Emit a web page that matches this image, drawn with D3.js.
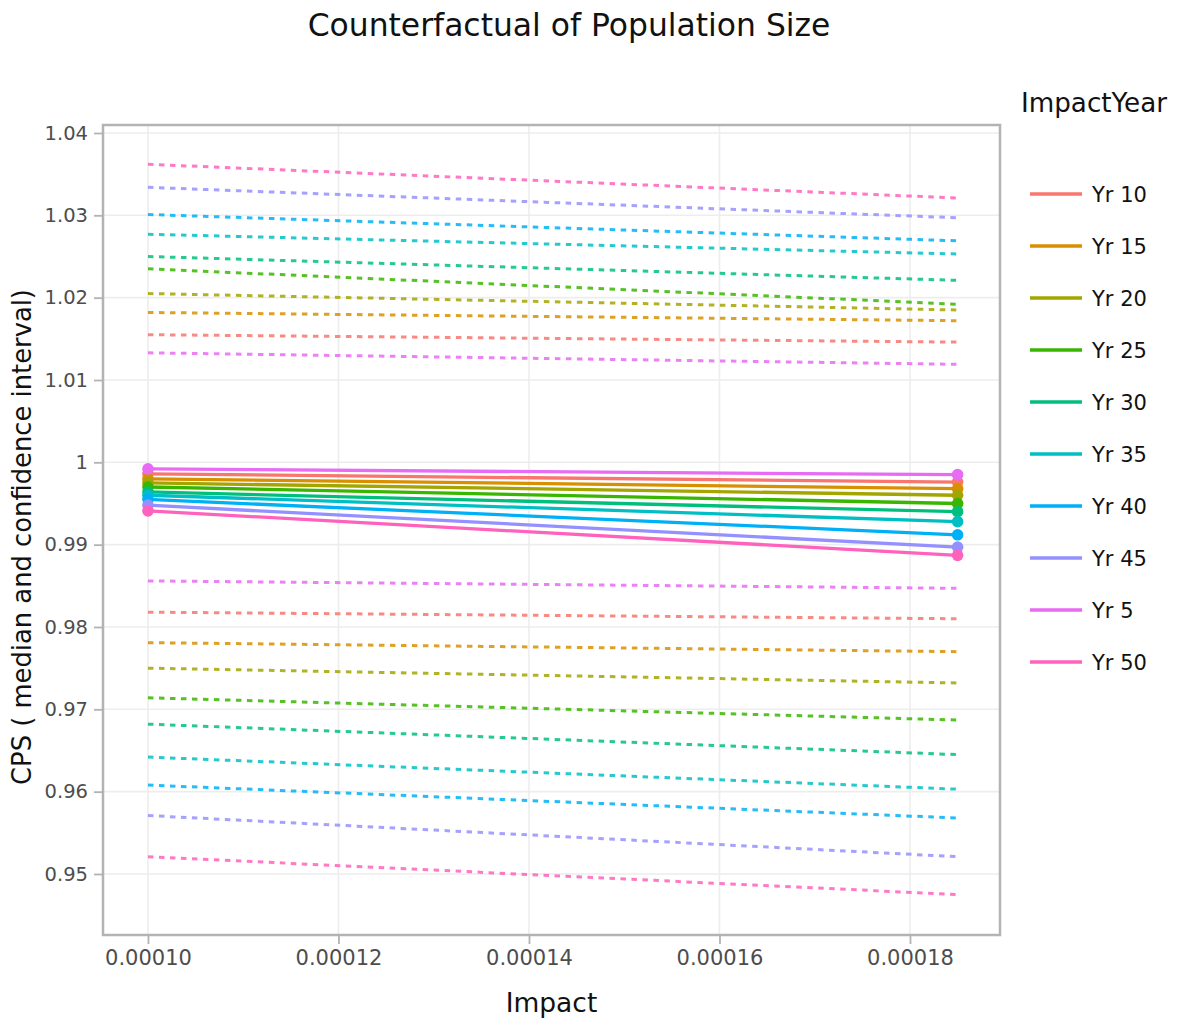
<!DOCTYPE html>
<html>
<head>
<meta charset="utf-8">
<script src="https://cdn.jsdelivr.net/npm/d3@7"></script>
<style>
  html, body { margin: 0; padding: 0; background: #fff; }
  svg { display: block; font-family: "DejaVu Sans", Verdana, sans-serif; }
</style>
</head>
<body>
<svg id="chart" width="1186" height="1023"></svg>
<script>
// ---- data ----
const categories = ["Yr 10", "Yr 15", "Yr 20", "Yr 25", "Yr 30", "Yr 35", "Yr 40", "Yr 45", "Yr 5", "Yr 50"];
const colors = ["#F8766D", "#D89000", "#A3A500", "#39B600", "#00BF7D", "#00BFC4", "#00B0F6", "#9590FF", "#E76BF3", "#FF62BC"];
const impacts = [0.00010, 0.000185];
const medianAtLow  = [0.9986, 0.9980, 0.9975, 0.9970, 0.9964, 0.9960, 0.9955, 0.9948, 0.9992, 0.9941];
const medianAtHigh = [0.9976, 0.9968, 0.9960, 0.9950, 0.9940, 0.9928, 0.9912, 0.9897, 0.9985, 0.9887];
const upperAtLow   = [1.0155, 1.0182, 1.0205, 1.0235, 1.0250, 1.0277, 1.0301, 1.0334, 1.0133, 1.0362];
const upperAtHigh  = [1.0146, 1.0172, 1.0185, 1.0192, 1.0221, 1.0253, 1.0269, 1.0297, 1.0119, 1.0321];
const lowerAtLow   = [0.9818, 0.9781, 0.9750, 0.9714, 0.9682, 0.9642, 0.9608, 0.9571, 0.9856, 0.9521];
const lowerAtHigh  = [0.9810, 0.9770, 0.9732, 0.9687, 0.9645, 0.9603, 0.9568, 0.9521, 0.9847, 0.9475];
const xTicks = [0.00010, 0.00012, 0.00014, 0.00016, 0.00018];
const yTicks = [0.95, 0.96, 0.97, 0.98, 0.99, 1.00, 1.01, 1.02, 1.03, 1.04];
const xDomain = [0.00009528, 0.00018945];
const yDomain = [0.94259, 1.04097];

// ---- layout ----
const panel = { left: 103, right: 1000, top: 125, bottom: 935 };
const svg = d3.select("#chart");

const x = d3.scaleLinear().domain(xDomain).range([panel.left, panel.right]);
const y = d3.scaleLinear().domain(yDomain).range([panel.bottom, panel.top]);

// grid
const grid = svg.append("g");
grid.selectAll("line.gx").data(xTicks).join("line")
  .attr("x1", d => x(d)).attr("x2", d => x(d))
  .attr("y1", panel.top).attr("y2", panel.bottom)
  .attr("stroke", "#ededed").attr("stroke-width", 1.6);
grid.selectAll("line.gy").data(yTicks).join("line")
  .attr("x1", panel.left).attr("x2", panel.right)
  .attr("y1", d => y(d)).attr("y2", d => y(d))
  .attr("stroke", "#ededed").attr("stroke-width", 1.6);

// series
const series = categories.map((c, i) => ({
  name: c, color: colors[i],
  median: [[impacts[0], medianAtLow[i]], [impacts[1], medianAtHigh[i]]],
  upper: [[impacts[0], upperAtLow[i]], [impacts[1], upperAtHigh[i]]],
  lower: [[impacts[0], lowerAtLow[i]], [impacts[1], lowerAtHigh[i]]]
}));

const line = d3.line().x(d => x(d[0])).y(d => y(d[1]));
const plot = svg.append("g");

series.forEach(s => {
  ["upper", "lower"].forEach(k => {
    plot.append("path").attr("d", line(s[k]))
      .attr("fill", "none").attr("stroke", s.color)
      .attr("stroke-width", 3).attr("stroke-dasharray", "5.5,5.5")
      .attr("opacity", 0.85);
  });
});
series.forEach(s => {
  plot.append("path").attr("d", line(s.median))
    .attr("fill", "none").attr("stroke", s.color)
    .attr("stroke-width", 3.3);
  plot.selectAll(null).data(s.median).join("circle")
    .attr("cx", d => x(d[0])).attr("cy", d => y(d[1]))
    .attr("r", 5.8).attr("fill", s.color);
});

// panel border
svg.append("rect")
  .attr("x", panel.left).attr("y", panel.top)
  .attr("width", panel.right - panel.left).attr("height", panel.bottom - panel.top)
  .attr("fill", "none").attr("stroke", "#b3b3b3").attr("stroke-width", 2.5);

// axes
const xAxis = svg.append("g").attr("transform", `translate(0,${panel.bottom + 1})`)
  .call(d3.axisBottom(x).tickValues(xTicks).tickFormat(d3.format(".5f")).tickSize(8).tickPadding(6));
const yAxis = svg.append("g").attr("transform", `translate(${panel.left - 1},0)`)
  .call(d3.axisLeft(y).tickValues(yTicks).tickFormat(d3.format(".2~f")).tickSize(8).tickPadding(6));
[xAxis, yAxis].forEach(a => {
  a.select(".domain").remove();
  a.selectAll(".tick line").attr("stroke", "#b3b3b3").attr("stroke-width", 1.8);
  a.selectAll(".tick text").attr("fill", "#4d4d4d")
    .style("font-family", '"DejaVu Sans", Verdana, sans-serif');
});
xAxis.selectAll(".tick text").style("font-size", "21px");
yAxis.selectAll(".tick text").style("font-size", "19.5px");

// titles
svg.append("text").attr("x", 569).attr("y", 36).attr("text-anchor", "middle")
  .attr("fill", "#111").style("font-size", "31.4px")
  .text("Counterfactual of Population Size");
svg.append("text").attr("x", (panel.left + panel.right) / 2).attr("y", 1012).attr("text-anchor", "middle")
  .attr("fill", "#111").style("font-size", "26.5px").text("Impact");
svg.append("text")
  .attr("transform", `translate(31,537) rotate(-90)`)
  .attr("text-anchor", "middle").attr("fill", "#111").style("font-size", "25.8px")
  .text("CPS ( median and confidence interval)");

// legend
const legend = svg.append("g");
legend.append("text").attr("x", 1021).attr("y", 112).attr("fill", "#111")
  .style("font-size", "26.2px").text("ImpactYear");
const items = legend.selectAll("g.item").data(series).join("g")
  .attr("transform", (d, i) => `translate(0,${194 + i * 52})`);
items.append("line").attr("x1", 1030).attr("x2", 1082).attr("y1", 0).attr("y2", 0)
  .attr("stroke", d => d.color).attr("stroke-width", 3.5);
items.append("text").attr("x", 1092).attr("y", 7.5).attr("fill", "#111")
  .style("font-size", "21px").text(d => d.name);
</script>
</body>
</html>
